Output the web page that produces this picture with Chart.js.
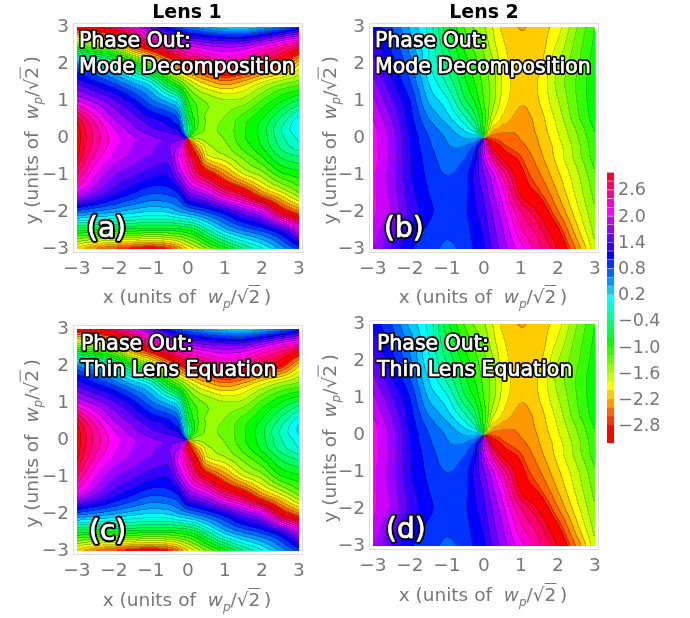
<!DOCTYPE html>
<html>
<head>
<meta charset="utf-8">
<script src="https://cdn.jsdelivr.net/npm/chart.js@4"></script>
<style>
  body { margin:0; background:#fff; }
  #page { position:relative; width:690px; height:618px; overflow:hidden; font-family:"DejaVu Sans",sans-serif; }
  canvas { position:absolute; }
  .head { position:absolute; top:0; width:120px; text-align:center; font-weight:bold; font-size:19px; color:#000; }
  .ax { position:absolute; width:220px; text-align:center; font-size:18.5px; color:#777; white-space:nowrap; line-height:22px; }
  .ax i sub { font-size:12px; }
  .ax .rad { text-decoration:overline; }
</style>
</head>
<body>
<div id="page"></div>
<script>
// sample positions of the phase grids
const gridX = [-3,-2.5,-2,-1.5,-1,-0.5,-0.25,0,0.25,0.5,1,1.5,2,2.5,3];
const gridY = [3,2.5,2,1.5,1,0.5,0.25,0,-0.25,-0.5,-1,-1.5,-2,-2.5,-3];
const xTicks = [-3,-2,-1,0,1,2,3];
const yTicks = [-3,-2,-1,0,1,2,3];

// phase, one row per gridY (null = vortex at the origin)
const phaseA = [
  [3.1,3.0,2.7,2.2,1.5,.9,.7,.52,.42,.3,.12,.05,.25,.5,.85],
  [-1.4,-1.7,-1.9,-2.8,2.9,2.3,2.1,1.9,1.85,1.75,1.65,1.7,2.0,2.35,2.7],
  [.5,.2,-.3,-.9,-1.6,-2.4,-2.8,3.14,3.0,2.8,2.55,2.7,3.05,-3.0,-2.25],
  [1.3,1.0,.7,.3,-.1,-1.0,-1.4,-1.8,-2.1,-2.3,-2.55,-2.35,-2.0,-1.7,-1.5],
  [2.0,1.7,1.4,1.05,.6,.2,-.1,-1.1,-1.45,-1.6,-1.75,-1.7,-1.35,-1.0,-.7],
  [2.95,2.3,1.8,1.5,1.2,1.0,.7,-.75,-1.3,-1.6,-1.55,-1.25,-.95,-.5,0],
  [3.1,2.5,2.0,1.65,1.4,1.2,1.1,-.5,-1.35,-1.6,-1.5,-1.2,-.85,-.35,.1],
  [-3.14,2.55,2.1,1.82,1.6,1.53,1.45,null,-1.7,-1.65,-1.55,-1.2,-.88,-.4,-.05],
  [3.1,2.5,2.05,1.78,1.6,1.55,1.8,3.0,-2.45,-1.9,-1.65,-1.3,-.95,-.5,-.18],
  [3.05,2.35,1.95,1.72,1.55,1.5,2.05,2.6,-2.95,-2.09,-1.82,-1.5,-1.15,-.7,-.5],
  [2.6,2.0,1.6,1.4,1.22,1.2,1.7,2.2,2.7,3.05,-2.6,-2.03,-1.7,-1.25,-1.05],
  [1.95,1.55,1.2,.95,.75,.8,.95,1.5,1.7,1.9,2.55,3.0,-2.55,-2.07,-1.6],
  [.65,.5,.35,.2,.1,.15,.3,.45,.6,.75,1.1,1.55,1.95,3.0,-2.65],
  [-.9,-.95,-1.0,-1.05,-1.1,-1.1,-1.05,-.95,-.75,-.4,.2,.55,.8,1.2,1.9],
  [-2.3,-2.65,-2.85,-3.0,-3.14,-2.9,-2.6,-2.2,-1.9,-1.6,-1.05,-.55,-.15,.35,.8]
];
const phaseB = [
  [1.1,.75,.28,-.15,-.85,-1.4,-1.6,-1.75,-2.0,-2.24,-2.42,-2.3,-2.09,-1.6,-1.15],
  [1.28,.9,.45,-.1,-.7,-1.22,-1.42,-1.62,-1.9,-2.15,-2.36,-2.3,-1.95,-1.5,-1.1],
  [1.45,1.05,.6,-.05,-.55,-1.05,-1.27,-1.5,-1.75,-2.07,-2.33,-2.25,-1.8,-1.42,-1.05],
  [1.65,1.2,.75,.12,-.35,-.9,-1.15,-1.42,-1.68,-2.0,-2.33,-2.17,-1.72,-1.35,-1.0],
  [1.85,1.4,.95,.3,-.05,-.7,-.95,-1.35,-1.7,-2.05,-2.38,-2.2,-1.8,-1.38,-1.0],
  [2.0,1.58,1.05,.55,.22,-.25,-.6,-1.2,-1.95,-2.25,-2.5,-2.3,-1.92,-1.45,-1.05],
  [2.08,1.65,1.1,.67,.38,.02,-.28,-1.2,-2.3,-2.5,-2.57,-2.33,-1.98,-1.55,-1.12],
  [2.1,1.7,1.15,.75,.5,.3,.28,null,-2.8,-2.75,-2.6,-2.38,-2.03,-1.62,-1.18],
  [2.1,1.7,1.15,.8,.55,.55,.8,1.9,3.14,-2.9,-2.7,-2.42,-2.1,-1.68,-1.22],
  [2.1,1.72,1.17,.85,.62,.72,1.0,1.8,2.65,-3.14,-2.83,-2.48,-2.12,-1.7,-1.25],
  [2.05,1.68,1.18,.9,.73,.88,1.2,1.55,1.95,2.45,-3.05,-2.65,-2.25,-1.85,-1.4],
  [2.05,1.72,1.25,.95,.82,.9,1.15,1.4,1.75,2.09,3.05,-2.88,-2.41,-1.95,-1.5],
  [2.05,1.75,1.3,1.0,.85,.92,1.1,1.3,1.6,1.9,2.6,3.05,-2.65,-2.09,-1.6],
  [1.95,1.5,1.1,.9,.78,.88,1.03,1.2,1.5,1.75,2.35,2.75,-3.0,-2.3,-1.7],
  [1.8,1.35,.98,.85,.69,.82,.97,1.1,1.4,1.65,2.1,2.55,3.0,-2.6,-1.85]
];
const phaseC = [
  [3.1,3.0,2.7,2.2,1.5,.9,.7,.52,.42,.3,.12,.02,.2,.48,.85],
  [-1.4,-1.7,-1.95,-2.8,2.9,2.3,2.05,1.9,1.85,1.75,1.65,1.7,2.0,2.35,2.7],
  [.5,.2,-.3,-.95,-1.6,-2.4,-2.8,3.14,3.0,2.8,2.55,2.7,3.05,-3.0,-2.25],
  [1.3,1.0,.7,.3,-.1,-1.0,-1.4,-1.8,-2.1,-2.3,-2.55,-2.35,-2.0,-1.7,-1.5],
  [2.0,1.7,1.4,1.05,.6,.2,-.1,-1.1,-1.45,-1.6,-1.75,-1.7,-1.3,-.95,-.65],
  [2.95,2.3,1.8,1.5,1.2,1.0,.7,-.75,-1.3,-1.6,-1.55,-1.25,-.9,-.45,.05],
  [3.1,2.5,2.0,1.65,1.4,1.2,1.1,-.5,-1.35,-1.6,-1.5,-1.2,-.8,-.3,.15],
  [-3.14,2.55,2.1,1.82,1.6,1.53,1.45,null,-1.7,-1.65,-1.55,-1.2,-.83,-.35,0],
  [3.1,2.5,2.05,1.78,1.6,1.55,1.8,3.0,-2.45,-1.9,-1.65,-1.3,-.9,-.45,-.13],
  [3.05,2.35,1.95,1.72,1.55,1.5,2.05,2.6,-2.95,-2.09,-1.82,-1.5,-1.15,-.7,-.45],
  [2.6,2.0,1.6,1.4,1.22,1.2,1.7,2.2,2.7,3.05,-2.6,-2.03,-1.7,-1.2,-1.0],
  [1.95,1.55,1.2,.95,.75,.8,.95,1.5,1.7,1.9,2.55,3.0,-2.55,-2.07,-1.55],
  [.65,.5,.35,.2,.1,.15,.3,.45,.6,.75,1.1,1.55,1.95,3.0,-2.65],
  [-.9,-.95,-1.0,-1.05,-1.1,-1.1,-1.05,-.95,-.75,-.4,.2,.55,.8,1.2,1.9],
  [-2.3,-2.65,-2.85,-3.05,-3.14,-2.95,-2.65,-2.25,-1.9,-1.6,-1.05,-.55,-.15,.35,.8]
];
const phaseD = [
  [1.05,.75,.25,-.15,-.85,-1.4,-1.6,-1.75,-2.0,-2.24,-2.42,-2.3,-2.09,-1.6,-1.15],
  [1.28,.88,.45,-.1,-.7,-1.22,-1.42,-1.62,-1.9,-2.15,-2.36,-2.3,-1.95,-1.5,-1.1],
  [1.45,1.05,.58,-.05,-.55,-1.05,-1.27,-1.5,-1.75,-2.07,-2.33,-2.25,-1.8,-1.42,-1.05],
  [1.65,1.2,.75,.12,-.35,-.9,-1.15,-1.42,-1.68,-2.0,-2.33,-2.17,-1.72,-1.35,-1.0],
  [1.85,1.4,.95,.3,-.05,-.7,-.95,-1.35,-1.7,-2.05,-2.38,-2.2,-1.8,-1.38,-1.0],
  [2.0,1.58,1.05,.55,.22,-.25,-.6,-1.2,-1.95,-2.25,-2.5,-2.3,-1.92,-1.45,-1.05],
  [2.08,1.65,1.1,.67,.38,.02,-.28,-1.2,-2.3,-2.5,-2.57,-2.33,-1.98,-1.55,-1.12],
  [2.1,1.7,1.15,.75,.5,.3,.28,null,-2.8,-2.75,-2.6,-2.38,-2.03,-1.62,-1.18],
  [2.1,1.7,1.15,.8,.55,.55,.8,1.9,3.14,-2.9,-2.7,-2.42,-2.1,-1.68,-1.22],
  [2.1,1.72,1.17,.85,.62,.72,1.0,1.8,2.65,-3.14,-2.83,-2.48,-2.12,-1.7,-1.25],
  [2.05,1.68,1.18,.9,.73,.88,1.2,1.55,1.95,2.45,-3.05,-2.65,-2.25,-1.85,-1.4],
  [2.05,1.72,1.25,.95,.82,.9,1.15,1.4,1.75,2.09,3.05,-2.88,-2.41,-1.95,-1.5],
  [2.05,1.75,1.3,1.0,.85,.92,1.1,1.3,1.6,1.9,2.6,3.05,-2.65,-2.09,-1.6],
  [1.95,1.5,1.1,.9,.78,.88,1.03,1.2,1.5,1.75,2.35,2.75,-3.0,-2.3,-1.7],
  [1.8,1.35,.98,.85,.69,.82,.97,1.1,1.4,1.65,2.1,2.55,3.0,-2.6,-1.85]
];

// colour bar
const barLevels = [-3.17,-2.97,-2.77,-2.57,-2.37,-2.17,-1.97,-1.77,-1.57,-1.37,-1.17,-0.97,-0.77,-0.57,-0.37,-0.17,0.03,0.23,0.43,0.63,0.83,1.03,1.23,1.43,1.63,1.83,2.03,2.23,2.43,2.63,2.83];
const barHues = [0,0,12,24,36,48,60,72,84,96,108,120,132,144,156,168,180,192,204,216,228,240,252,264,276,288,300,312,324,336,350];
const barTicks = [-2.8,-2.2,-1.6,-1.0,-0.4,0.2,0.8,1.4,2.0,2.6];

const tickFont = { family:"DejaVu Sans", size:18.5 };
const tickGrey = "#777";
const minus = s => String(s).replace("-", "\u2212");
const noOverflow = s => { s.paddingTop = s.paddingBottom = s.paddingLeft = s.paddingRight = 0; };

// rgb of a hue, used for the image cells
function hueRgb(h) {
  const f = n => { const k = (n + h/60) % 6; return 255 * (1 - Math.max(0, Math.min(k, 4-k, 1))); };
  return [f(5), f(3), f(1)];
}

const TWO_PI = 2 * Math.PI;
const nearest = (v, ref) => v - TWO_PI * Math.round((v - ref) / TWO_PI);

// smooth step between samples p[1] and p[2] of a 4 point window
function hermite(t, p, u) {
  const h = t[2] - t[1];
  const m1 = (p[2] - p[0]) / (t[2] - t[0] || 1);
  const m2 = (p[3] - p[1]) / (t[3] - t[1] || 1);
  const u2 = u*u, u3 = u2*u;
  return (2*u3-3*u2+1)*p[1] + (u3-2*u2+u)*h*m1 + (-2*u3+3*u2)*p[2] + (u3-u2)*h*m2;
}

// phase at a point inside cell (ix,iy) of the dataset's samples
function phaseAt(cells, nx, ny, ix, iy, tx, ty) {
  const at = (r, k) => cells[r*nx+k].v;
  const a = at(iy,ix), b = at(iy,ix+1), c = at(iy+1,ix), d = at(iy+1,ix+1);
  if (a === null || b === null || c === null || d === null) {
    const vec = v => v === null ? [0,0] : [Math.cos(v), Math.sin(v)];
    const A = vec(a), B = vec(b), C = vec(c), D = vec(d);
    const re = (A[0]*(1-tx)+B[0]*tx)*(1-ty) + (C[0]*(1-tx)+D[0]*tx)*ty;
    const im = (A[1]*(1-tx)+B[1]*tx)*(1-ty) + (C[1]*(1-tx)+D[1]*tx)*ty;
    return Math.atan2(im, re);
  }
  const cols = [Math.max(ix-1,0), ix, ix+1, Math.min(ix+2,nx-1)];
  const rows = [Math.max(iy-1,0), iy, iy+1, Math.min(iy+2,ny-1)];
  let hasNull = false;
  rows.forEach(r => cols.forEach(k => { if (at(r,k) === null) hasNull = true; }));
  if (hasNull) {
    const B = nearest(b,a), C = nearest(c,a), D = nearest(d,(B+C)/2);
    return (a*(1-tx)+B*tx)*(1-ty) + (C*(1-tx)+D*tx)*ty;
  }
  // unwrap the window outward from the cell, then run the smooth step both ways
  const g = [[],[],[],[]];
  g[1][1] = a;
  g[2][1] = nearest(c, g[1][1]);
  g[0][1] = nearest(at(rows[0],ix), g[1][1]);
  g[3][1] = nearest(at(rows[3],ix), g[2][1]);
  for (let r = 0; r < 4; r++) {
    g[r][2] = nearest(at(rows[r],cols[2]), g[r][1]);
    g[r][0] = nearest(at(rows[r],cols[0]), g[r][1]);
    g[r][3] = nearest(at(rows[r],cols[3]), g[r][2]);
  }
  const tk = cols.map(k => gridX[k]);
  const tr = rows.map(r => -gridY[r]);
  return hermite(tr, g.map(row => hermite(tk, row, tx)), ty);
}

// fills the panel from the dataset cells, going through the chart's scales
const phaseField = {
  id: "phaseField",
  beforeDatasetsDraw(chart) {
    const sx = chart.scales.x, sy = chart.scales.y;
    const cells = chart.data.datasets[0].data;
    const nx = gridX.length, ny = gridY.length;
    const left = Math.round(sx.getPixelForValue(gridX[0])), right = Math.round(sx.getPixelForValue(gridX[nx-1]));
    const top = Math.round(sy.getPixelForValue(gridY[0])), bottom = Math.round(sy.getPixelForValue(gridY[ny-1]));
    const w = right - left, h = bottom - top;
    const bands = new Int16Array(w * h);
    for (let j = 0; j < h; j++) {
      const yv = sy.getValueForPixel(top + j + 0.5);
      let iy = 0;
      while (iy < ny-2 && yv < gridY[iy+1]) iy++;
      const ty = (gridY[iy] - yv) / (gridY[iy] - gridY[iy+1]);
      for (let i = 0; i < w; i++) {
        const xv = sx.getValueForPixel(left + i + 0.5);
        let ix = 0;
        while (ix < nx-2 && xv > gridX[ix+1]) ix++;
        const tx = (xv - gridX[ix]) / (gridX[ix+1] - gridX[ix]);
        const ph = nearest(phaseAt(cells, nx, ny, ix, iy, tx, ty), 0);
        // the red end of the scale is wider than the other bands
        bands[j*w+i] = (ph > 3.0 || ph < -2.93) ? 0 : ((Math.round((ph + Math.PI) / TWO_PI * 30) % 30) + 30) % 30;
      }
    }
    const off = document.createElement("canvas");
    off.width = w; off.height = h;
    const octx = off.getContext("2d");
    const img = octx.createImageData(w, h);
    for (let j = 0; j < h; j++) {
      for (let i = 0; i < w; i++) {
        const b = bands[j*w+i];
        const edge = (i < w-1 && bands[j*w+i+1] !== b) || (j < h-1 && bands[(j+1)*w+i] !== b);
        const rgb = hueRgb(b * 12), k = edge ? 0.78 : 1, p = (j*w+i)*4;
        img.data[p] = rgb[0]*k; img.data[p+1] = rgb[1]*k; img.data[p+2] = rgb[2]*k; img.data[p+3] = 255;
      }
    }
    octx.putImageData(img, 0, 0);
    chart.ctx.drawImage(off, left, top);
  },
  afterDraw(chart, args, opts) {
    const ctx = chart.ctx, a = chart.chartArea;
    ctx.save();
    ctx.strokeStyle = "#dedede"; ctx.lineWidth = 1;
    ctx.strokeRect(a.left + 0.5, a.top + 0.5, a.width - 1, a.height - 1);
    ctx.lineJoin = "round";
    ctx.textBaseline = "alphabetic";
    const put = (txt, x, y, size, lw) => {
      ctx.font = size + 'px "DejaVu Sans"';
      ctx.strokeStyle = "#000"; ctx.lineWidth = lw; ctx.strokeText(txt, x, y);
      ctx.strokeStyle = "#fff"; ctx.lineWidth = 0.7; ctx.strokeText(txt, x, y);
      ctx.fillStyle = "#fff"; ctx.fillText(txt, x, y);
    };
    opts.lines.forEach((t, i) => put(t, a.left + opts.textX, a.top + opts.textY + i*26, 20.5, 4));
    put(opts.tag, a.left + opts.tagX, a.top + opts.tagY, 28, 4.5);
    ctx.restore();
  }
};

const page = document.getElementById("page");

function addCanvas(left, top, w, h) {
  const c = document.createElement("canvas");
  c.width = w; c.height = h;
  c.style.left = left + "px"; c.style.top = top + "px";
  page.appendChild(c);
  return c;
}

function panel(frameLeft, frameTop, values, lines, tag, textX, textY, tagX, tagY) {
  const padLeft = 50, padTop = 12, canvasW = 50+230+12, canvasH = 12+230+34;
  const cells = [];
  gridY.forEach((y, r) => gridX.forEach((x, k) => cells.push({ x, y, v: values[r][k] })));
  new Chart(addCanvas(frameLeft-padLeft, frameTop-padTop, canvasW, canvasH), {
    type: "scatter",
    data: { datasets: [{ data: cells, pointRadius: 0, pointHoverRadius: 0 }] },
    options: {
      responsive: false, animation: false,
      layout: { padding: { top: padTop, right: 12 } },
      plugins: { legend: { display:false }, tooltip: { enabled:false }, phaseField: { lines, tag, textX, textY, tagX, tagY } },
      scales: {
        x: {
          type:"linear", min:-3.108, max:3.108,
          afterBuildTicks: s => { s.ticks = xTicks.map(v => ({ value:v })); },
          afterFit: s => { s.height = 34; noOverflow(s); },
          grid: { display:false, drawTicks:false }, border: { display:false },
          ticks: { font:tickFont, color:tickGrey, padding:5, maxRotation:0, callback: v => minus(v) }
        },
        y: {
          type:"linear", min:-3.108, max:3.108,
          afterBuildTicks: s => { s.ticks = yTicks.map(v => ({ value:v })); },
          afterFit: s => { s.width = padLeft; noOverflow(s); },
          grid: { display:false, drawTicks:false }, border: { display:false },
          ticks: { font:tickFont, color:tickGrey, padding:4, callback: v => minus(v) }
        }
      }
    },
    plugins: [phaseField]
  });
}

panel(73, 23, phaseA, ["Phase Out:", "Mode Decomposition"], "(a)", 6, 24, 14, 214);
panel(369, 23, phaseB, ["Phase Out:", "Mode Decomposition"], "(b)", 6, 24, 15, 214);
panel(73, 325, phaseC, ["Phase Out:", "Thin Lens Equation"], "(c)", 8, 25, 16, 215);
panel(369, 320, phaseD, ["Phase Out:", "Thin Lens Equation"], "(d)", 8, 30, 17, 218);

// colour bar built from the levels
new Chart(addCanvas(595, 160, 95, 296), {
  type: "bar",
  data: {
    labels: ["phase"],
    datasets: barLevels.map((lo, i) => ({
      data: [[lo, lo + 0.2]],
      backgroundColor: "hsl(" + barHues[i] + ",100%,50%)",
      borderColor: "rgba(0,0,0,0.18)", borderWidth: { top:1 },
      grouped: false, barPercentage: 1, categoryPercentage: 1
    }))
  },
  options: {
    responsive: false, animation: false,
    layout: { padding: { left:12, top:12, bottom:13 } },
    plugins: { legend: { display:false }, tooltip: { enabled:false } },
    scales: {
      x: { display:false },
      y: {
        position:"right", min:-3.17, max:3.03,
        afterBuildTicks: s => { s.ticks = barTicks.map(v => ({ value:v })); },
        afterFit: s => { s.width = 76; noOverflow(s); },
        grid: { display:false, drawTicks:false }, border: { display:false },
        ticks: { font:{ family:"DejaVu Sans", size:17.5 }, color:tickGrey, padding:4, callback: v => minus(v.toFixed(1)) }
      }
    }
  }
});

// headers and axis titles
[["Lens 1", 187], ["Lens 2", 484]].forEach(([t, cx]) => {
  const d = document.createElement("div");
  d.className = "head"; d.textContent = t; d.style.left = (cx-60) + "px";
  page.appendChild(d);
});

function axisTitle(letter, cx, cy, rotate) {
  const d = document.createElement("div");
  d.className = "ax";
  d.innerHTML = letter + ' (units of&nbsp; <i>w<sub>p</sub></i>/\u221A<span class="rad">2</span>&thinsp;)';
  d.style.left = (cx-110) + "px"; d.style.top = (cy-11) + "px";
  if (rotate) d.style.transform = "rotate(-90deg)";
  page.appendChild(d);
}
axisTitle("x", 187, 297); axisTitle("x", 483, 297);
axisTitle("x", 187, 600); axisTitle("x", 483, 595);
axisTitle("y", 35, 137, true); axisTitle("y", 333, 137, true);
axisTitle("y", 35, 440, true); axisTitle("y", 333, 435, true);
</script>
</body>
</html>
